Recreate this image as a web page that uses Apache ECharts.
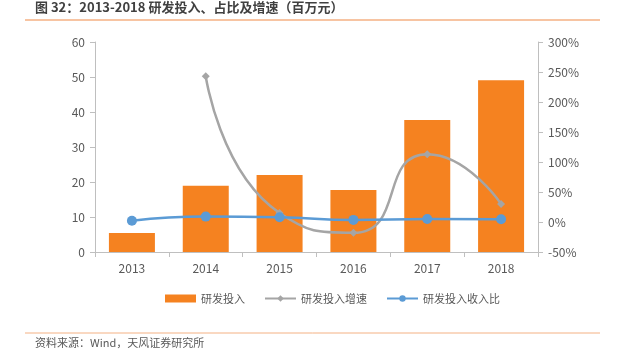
<!DOCTYPE html>
<html><head><meta charset="utf-8">
<script src="https://cdn.jsdelivr.net/npm/echarts@6/dist/echarts.min.js"></script>
<style>html,body{margin:0;padding:0;background:#fff}#c{width:625px;height:352px}</style>
</head><body><div id="c"></div>
<script>
const categories = ['2013','2014','2015','2016','2017','2018'];
const rdInvest = [5.4, 18.9, 22.0, 17.7, 37.7, 49.1];
const rdGrowth = [null, 243, 15, -18, 113, 30];
const rdRatio = [2, 9, 8, 3.5, 5, 4.5];
const leftTicks = [0, 60, 10];
const rightTicks = [-50, 300, 50];

const font = '"Microsoft YaHei","Noto Sans CJK SC",sans-serif';
const chart = echarts.init(document.getElementById('c'));
chart.setOption({
  animation: false,
  textStyle: {fontFamily: font},
  grid: {left: 95, right: 87, top: 42, bottom: 100},
  graphic: [
    {type: 'text', left: 35, top: 1, style: {text: '图 32：2013-2018 研发投入、占比及增速（百万元）', font: 'bold 13px ' + font, fill: '#404040'}},
    {type: 'line', shape: {x1: 25, y1: 20, x2: 600, y2: 20}, style: {stroke: '#F4B183', lineWidth: 1.5}},
    {type: 'line', shape: {x1: 25, y1: 333, x2: 600, y2: 333}, style: {stroke: '#F4B183', lineWidth: 1}},
    {type: 'text', left: 35, top: 337, style: {text: '资料来源：Wind，天风证券研究所', font: '11px ' + font, fill: '#595959'}}
  ],
  legend: {
    top: 288, left: 160, itemGap: 19, itemWidth: 31, itemHeight: 8,
    textStyle: {color: '#595959', fontSize: 11},
    data: [
      {name: '研发投入', icon: 'rect'},
      {name: '研发投入增速'},
      {name: '研发投入收入比'}
    ]
  },
  xAxis: {
    type: 'category', data: categories,
    axisLine: {lineStyle: {color: '#BFBFBF'}},
    axisTick: {show: true, alignWithLabel: false, length: 5, lineStyle: {color: '#BFBFBF'}},
    axisLabel: {color: '#595959', fontSize: 12, margin: 10}
  },
  yAxis: [
    {type: 'value', min: leftTicks[0], max: leftTicks[1], interval: leftTicks[2],
     axisLine: {show: true, lineStyle: {color: '#BFBFBF'}},
     axisTick: {show: true, length: 5, lineStyle: {color: '#BFBFBF'}},
     splitLine: {show: false},
     axisLabel: {color: '#595959', fontSize: 12, margin: 10}},
    {type: 'value', min: rightTicks[0], max: rightTicks[1], interval: rightTicks[2],
     axisLine: {show: true, lineStyle: {color: '#BFBFBF'}},
     axisTick: {show: true, length: 5, lineStyle: {color: '#BFBFBF'}},
     splitLine: {show: false},
     axisLabel: {color: '#595959', fontSize: 12, margin: 10, formatter: '{value}%'}}
  ],
  series: [
    {name: '研发投入', type: 'bar', data: rdInvest, barWidth: 46,
     itemStyle: {color: '#F58220'}},
    {name: '研发投入增速', type: 'line', yAxisIndex: 1, data: rdGrowth, smooth: 0.6,
     symbol: 'diamond', symbolSize: 8, connectNulls: false,
     lineStyle: {color: '#A5A5A5', width: 2.5}, itemStyle: {color: '#A5A5A5'}},
    {name: '研发投入收入比', type: 'line', yAxisIndex: 1, data: rdRatio, smooth: true,
     symbol: 'circle', symbolSize: 10,
     lineStyle: {color: '#5B9BD5', width: 2.5}, itemStyle: {color: '#5B9BD5'}}
  ]
});
</script></body></html>
